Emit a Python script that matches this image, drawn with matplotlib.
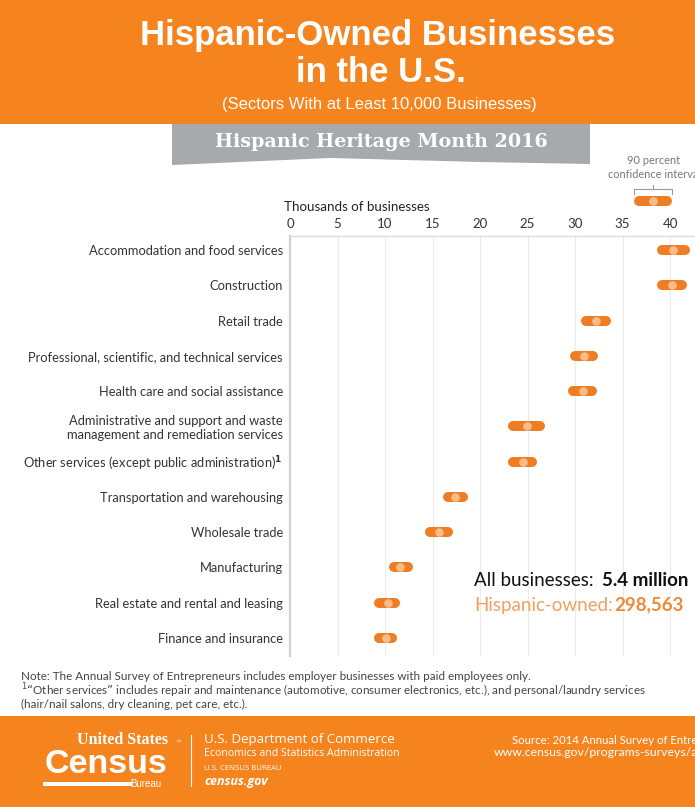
import matplotlib
matplotlib.use("Agg")
import matplotlib.pyplot as plt
from matplotlib.patches import Rectangle, Polygon
from matplotlib.lines import Line2D

W, H = 695, 807

# ---------------- data ----------------
sectors = [
    "Accommodation and food services",
    "Construction",
    "Retail trade",
    "Professional, scientific, and technical services",
    "Health care and social assistance",
    "Administrative and support and waste\nmanagement and remediation services",
    "Other services (except public administration)$^{\\mathbf{1}}$",
    "Transportation and warehousing",
    "Wholesale trade",
    "Manufacturing",
    "Real estate and rental and leasing",
    "Finance and insurance",
]
estimate = [40.3, 40.2, 32.2, 30.9, 30.8, 24.9, 24.5, 17.4, 15.7, 11.6, 10.3, 10.1]
ci_low = [39.1, 39.1, 31.1, 30.0, 29.8, 23.5, 23.5, 16.6, 14.7, 10.9, 9.4, 9.4]
ci_high = [41.6, 41.3, 33.2, 31.9, 31.8, 26.3, 25.5, 18.2, 16.6, 12.4, 11.1, 10.7]
xticks = [0, 5, 10, 15, 20, 25, 30, 35, 40]

ORANGE = "#F5841F"
DOT = "#EE7D23"
LIGHT = "#F7BC88"
GRAY_TXT = "#333333"
FONT = "Lato"
SANS = ["Liberation Sans", "DejaVu Sans"]


def fx(x):
    return x / W


def fy(y):
    return 1 - y / H


fig = plt.figure(figsize=(W / 100, H / 100), dpi=100)
fig.patch.set_facecolor("white")

# ---------------- header ----------------
fig.patches.append(Rectangle((0, fy(124)), 1, 124 / H, transform=fig.transFigure,
                             facecolor=ORANGE, edgecolor="none", zorder=0))
fig.text(fx(378), fy(35), "Hispanic-Owned Businesses", color="white", ha="center", va="center",
         fontsize=25, fontweight="bold", family=SANS)
fig.text(fx(381), fy(72), "in the U.S.", color="white", ha="center", va="center",
         fontsize=25, fontweight="bold", family=SANS)
fig.text(fx(379), fy(105), "(Sectors With at Least 10,000 Businesses)", color="white",
         ha="center", va="center", fontsize=12, family=SANS)

banner = [(172, 124), (590, 124), (590, 164), (480, 162), (330, 158), (172, 165)]
fig.patches.append(Polygon([(fx(x), fy(y)) for x, y in banner], closed=True,
                           transform=fig.transFigure, facecolor="#A7A9AC", edgecolor="none"))
fig.text(fx(381), fy(142), "Hispanic Heritage Month 2016", color="white", ha="center",
         va="center", fontsize=13.8, fontweight="bold", family=["DejaVu Serif"])

# ---------------- main chart ----------------
ax = fig.add_axes([fx(290), fy(656), 1 - fx(290) + 0.01, (656 - 236) / H])
n = len(sectors)
ypos = list(range(n))
for i in ypos:
    ax.plot([ci_low[i], ci_high[i]], [i, i], color=DOT, lw=7.2,
            solid_capstyle="round", zorder=3)
ax.plot(estimate, ypos, linestyle="none", marker="o", markersize=6.2,
        markerfacecolor=LIGHT, markeredgecolor="none", zorder=4)

ax.set_xlim(0, 405 / 9.43 + 0.4)
ax.set_ylim(n - 1 + 0.51, -0.40)
ax.set_xticks(xticks)
ax.set_xticklabels([str(t) for t in xticks])
ax.xaxis.tick_top()
ax.tick_params(axis="x", length=0, pad=4, labelsize=9.5, labelcolor=GRAY_TXT)
ax.set_yticks(ypos)
ax.set_yticklabels(sectors)
ax.tick_params(axis="y", length=0, pad=5, labelsize=9.3, labelcolor=GRAY_TXT)
for lab in ax.get_xticklabels() + ax.get_yticklabels():
    lab.set_family(FONT)
ax.grid(axis="x", color="#EBEBEB", lw=0.8)
ax.set_axisbelow(True)
for s in ["right", "bottom"]:
    ax.spines[s].set_visible(False)
ax.spines["left"].set_color("#D2D2D2")
ax.spines["left"].set_linewidth(1.6)
ax.spines["top"].set_color("#DCDCDC")
ax.spines["top"].set_linewidth(1.0)

fig.text(fx(284), fy(207), "Thousands of businesses", ha="left", va="center",
         fontsize=9.6, color="#222222", family=FONT)

# legend for confidence interval
fig.text(fx(654), fy(161), "90 percent", ha="center", va="center", fontsize=7.9,
         color="#777777", family=FONT)
fig.text(fx(654), fy(174), "confidence interval", ha="center", va="center", fontsize=7.9,
         color="#777777", family=FONT)
br_col = "#999999"
fig.lines.append(Line2D([fx(634), fx(634), fx(672), fx(672)],
                        [fy(194), fy(189), fy(189), fy(194)],
                        transform=fig.transFigure, color=br_col, lw=0.8))
fig.lines.append(Line2D([fx(653), fx(653)], [fy(189), fy(185)],
                        transform=fig.transFigure, color=br_col, lw=0.8))
fig.lines.append(Line2D([fx(639), fx(667)], [fy(201), fy(201)], transform=fig.transFigure,
                        color=DOT, lw=7.2, solid_capstyle="round"))
fig.lines.append(Line2D([fx(653)], [fy(201)], transform=fig.transFigure, linestyle="none",
                        marker="o", markersize=6.2, markerfacecolor=LIGHT,
                        markeredgecolor="none"))

# totals annotation
fig.text(fx(474), fy(581), "All businesses:", ha="left", va="center", fontsize=13.5,
         color="#111111", family=FONT)
fig.text(fx(688), fy(581), "5.4 million", ha="right", va="center", fontsize=13.5,
         color="#111111", fontweight="bold", family=FONT)
fig.text(fx(474), fy(605), "Hispanic-owned:", ha="left", va="center", fontsize=13.5,
         color="#F0A060", family=FONT)
fig.text(fx(684), fy(605), "298,563", ha="right", va="center", fontsize=13.5,
         color="#EE8A3A", fontweight="bold", family=FONT)

# ---------------- notes ----------------
notes = [
    "Note: The Annual Survey of Entrepreneurs includes employer businesses with paid employees only.",
    "$^{1}$\u201cOther services\u201d includes repair and maintenance (automotive, consumer electronics, etc.), and personal/laundry services",
    "(hair/nail salons, dry cleaning, pet care, etc.).",
]
for k, t in enumerate(notes):
    fig.text(fx(21), fy(676 + 14.3 * k), t, ha="left", va="center", fontsize=8.4,
             color="#444444", family=FONT)

# ---------------- footer ----------------
fig.patches.append(Rectangle((0, 0), 1, fy(716), transform=fig.transFigure,
                             facecolor=ORANGE, edgecolor="none", zorder=0))
fig.text(fx(168), fy(744), "United States", ha="right", va="baseline", fontsize=11.5,
         color="white", fontweight="bold", family=["Liberation Serif", "DejaVu Serif"])
fig.text(fx(175), fy(744), "\u2122", ha="left", va="baseline", fontsize=4,
         color="white", family=SANS)
fig.text(fx(167), fy(773), "Census", ha="right", va="baseline", fontsize=24.5,
         color="white", fontweight="bold", family=SANS)
fig.patches.append(Rectangle((fx(43), fy(786)), fx(132) - fx(43), 4 / H,
                             transform=fig.transFigure, facecolor="white", edgecolor="none"))
fig.text(fx(161), fy(784), "Bureau", ha="right", va="center", fontsize=7,
         color="white", family=SANS)
fig.lines.append(Line2D([fx(191), fx(191)], [fy(735), fy(786)], transform=fig.transFigure,
                        color="white", lw=0.8))
fig.text(fx(204), fy(740), "U.S. Department of Commerce", ha="left", va="center",
         fontsize=9.5, color="white", family="Open Sans")
fig.text(fx(204), fy(754), "Economics and Statistics Administration", ha="left",
         va="center", fontsize=7.6, color="white", family="Open Sans")
fig.text(fx(204), fy(768), "U.S. CENSUS BUREAU", ha="left", va="center", fontsize=5.6,
         color="white", family="Open Sans")
fig.text(fx(204), fy(782), "census.gov", ha="left", va="center", fontsize=9,
         color="white", fontweight="bold", style="italic", family="Open Sans")
fig.text(fx(512), fy(740), "Source: 2014 Annual Survey of Entrepreneurs", ha="left",
         va="center", fontsize=8.2, color="white", family=FONT)
fig.text(fx(494), fy(753), "www.census.gov/programs-surveys/ase.html", ha="left",
         va="center", fontsize=8.8, color="white", family=FONT)

fig.savefig("out.png", dpi=100, facecolor=fig.get_facecolor())
